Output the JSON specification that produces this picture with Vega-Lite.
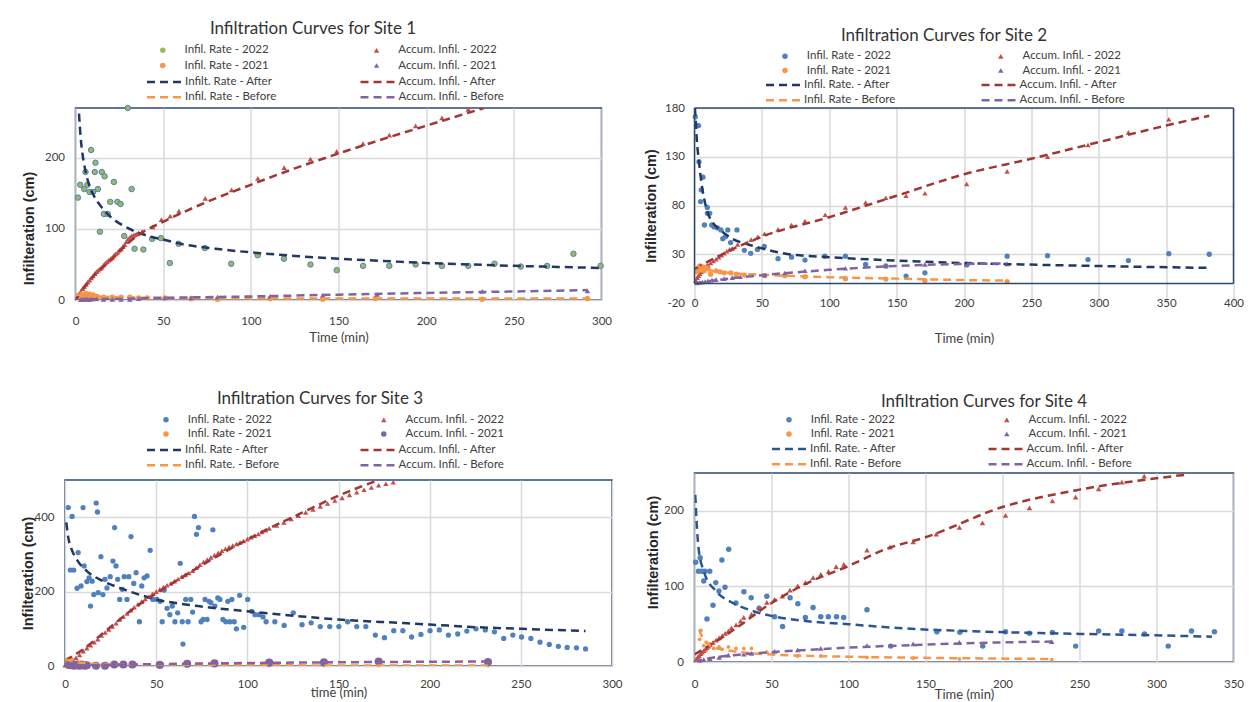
{
  "$schema": "https://vega.github.io/schema/vega-lite/v6.json",
  "padding": {"left": 19, "top": 19, "right": 0, "bottom": 0},
  "config": {
    "font": "Lato",
    "background": "white",
    "view": {"stroke": "#2b4a72", "strokeWidth": 1.5},
    "axis": {"domain": false, "ticks": false, "grid": true, "gridColor": "#d9d9d9", "gridWidth": 1.5, "labelFont": "Lato", "labelFontSize": 11.5, "labelColor": "#404040", "labelFlush": false, "labelOverlap": false, "titleFont": "Lato", "titleFontSize": 13, "titleFontWeight": "normal", "titleColor": "#404040", "labelExpr": "'' + datum.value"},
    "axisY": {"titleFont": "Liberation Sans, Arial, sans-serif", "titleFontWeight": "bold", "titleFontSize": 14.5, "titleColor": "#262626"},
    "title": {"font": "Lato", "fontSize": 17, "fontWeight": "normal", "color": "#333333", "anchor": "middle"},
    "legend": {"labelFont": "Lato", "labelFontSize": 11.5, "labelColor": "#404040", "padding": 0, "direction": "horizontal", "labelOffset": 16, "gridAlign": "all"}
  },
  "datasets": {
    "p1p": [
      {"t":1.4,"v":144,"s":"Infil. Rate - 2022"},{"t":2.7,"v":162,"s":"Infil. Rate - 2022"},{"t":5,"v":156,"s":"Infil. Rate - 2022"},{"t":5.7,"v":180,"s":"Infil. Rate - 2022"},{"t":6.8,"v":162,"s":"Infil. Rate - 2022"},{"t":8,"v":152,"s":"Infil. Rate - 2022"},{"t":8.9,"v":211,"s":"Infil. Rate - 2022"},{"t":10,"v":152,"s":"Infil. Rate - 2022"},{"t":11,"v":180,"s":"Infil. Rate - 2022"},{"t":11.4,"v":193,"s":"Infil. Rate - 2022"},{"t":12.8,"v":156,"s":"Infil. Rate - 2022"},{"t":13.9,"v":96,"s":"Infil. Rate - 2022"},{"t":15,"v":180,"s":"Infil. Rate - 2022"},{"t":16.2,"v":121,"s":"Infil. Rate - 2022"},{"t":16.6,"v":174,"s":"Infil. Rate - 2022"},{"t":18.4,"v":121,"s":"Infil. Rate - 2022"},{"t":19.8,"v":138,"s":"Infil. Rate - 2022"},{"t":21.9,"v":166,"s":"Infil. Rate - 2022"},{"t":23.9,"v":138,"s":"Infil. Rate - 2022"},{"t":25.7,"v":135,"s":"Infil. Rate - 2022"},{"t":27.8,"v":90,"s":"Infil. Rate - 2022"},{"t":29.8,"v":270,"s":"Infil. Rate - 2022"},{"t":32,"v":156,"s":"Infil. Rate - 2022"},{"t":33.7,"v":72,"s":"Infil. Rate - 2022"},{"t":38.7,"v":71,"s":"Infil. Rate - 2022"},{"t":43.7,"v":86,"s":"Infil. Rate - 2022"},{"t":48.7,"v":87,"s":"Infil. Rate - 2022"},{"t":53.8,"v":52,"s":"Infil. Rate - 2022"},{"t":58.8,"v":79,"s":"Infil. Rate - 2022"},{"t":73.8,"v":73,"s":"Infil. Rate - 2022"},{"t":88.8,"v":51,"s":"Infil. Rate - 2022"},{"t":103.9,"v":63,"s":"Infil. Rate - 2022"},{"t":118.9,"v":58,"s":"Infil. Rate - 2022"},{"t":134,"v":50,"s":"Infil. Rate - 2022"},{"t":149,"v":42,"s":"Infil. Rate - 2022"},{"t":164,"v":48,"s":"Infil. Rate - 2022"},{"t":179,"v":48,"s":"Infil. Rate - 2022"},{"t":194,"v":50,"s":"Infil. Rate - 2022"},{"t":209,"v":48,"s":"Infil. Rate - 2022"},{"t":224,"v":48,"s":"Infil. Rate - 2022"},{"t":239,"v":51,"s":"Infil. Rate - 2022"},{"t":254,"v":47,"s":"Infil. Rate - 2022"},{"t":269,"v":48,"s":"Infil. Rate - 2022"},{"t":284,"v":65,"s":"Infil. Rate - 2022"},{"t":299.5,"v":48,"s":"Infil. Rate - 2022"},
      {"t":1,"v":4,"s":"Accum. Infil. - 2022"},{"t":2,"v":8,"s":"Accum. Infil. - 2022"},{"t":3,"v":12,"s":"Accum. Infil. - 2022"},{"t":4,"v":16,"s":"Accum. Infil. - 2022"},{"t":5,"v":19,"s":"Accum. Infil. - 2022"},{"t":6,"v":22,"s":"Accum. Infil. - 2022"},{"t":7,"v":25,"s":"Accum. Infil. - 2022"},{"t":8,"v":28,"s":"Accum. Infil. - 2022"},{"t":9,"v":31,"s":"Accum. Infil. - 2022"},{"t":10,"v":34,"s":"Accum. Infil. - 2022"},{"t":11,"v":37,"s":"Accum. Infil. - 2022"},{"t":12,"v":40,"s":"Accum. Infil. - 2022"},{"t":13,"v":42,"s":"Accum. Infil. - 2022"},{"t":14,"v":44,"s":"Accum. Infil. - 2022"},{"t":15,"v":46,"s":"Accum. Infil. - 2022"},{"t":16,"v":49,"s":"Accum. Infil. - 2022"},{"t":17,"v":52,"s":"Accum. Infil. - 2022"},{"t":18,"v":54,"s":"Accum. Infil. - 2022"},{"t":19,"v":56,"s":"Accum. Infil. - 2022"},{"t":20,"v":58,"s":"Accum. Infil. - 2022"},{"t":21,"v":60,"s":"Accum. Infil. - 2022"},{"t":22,"v":63,"s":"Accum. Infil. - 2022"},{"t":23,"v":65,"s":"Accum. Infil. - 2022"},{"t":24,"v":67,"s":"Accum. Infil. - 2022"},{"t":25,"v":70,"s":"Accum. Infil. - 2022"},{"t":26,"v":72,"s":"Accum. Infil. - 2022"},{"t":27,"v":75,"s":"Accum. Infil. - 2022"},{"t":28,"v":78,"s":"Accum. Infil. - 2022"},{"t":29,"v":82,"s":"Accum. Infil. - 2022"},{"t":30,"v":86,"s":"Accum. Infil. - 2022"},{"t":31,"v":88,"s":"Accum. Infil. - 2022"},{"t":32,"v":90,"s":"Accum. Infil. - 2022"},{"t":33,"v":91,"s":"Accum. Infil. - 2022"},{"t":34,"v":92,"s":"Accum. Infil. - 2022"},{"t":35,"v":93,"s":"Accum. Infil. - 2022"},{"t":36,"v":94,"s":"Accum. Infil. - 2022"},{"t":38,"v":96,"s":"Accum. Infil. - 2022"},{"t":44,"v":103,"s":"Accum. Infil. - 2022"},{"t":49,"v":113,"s":"Accum. Infil. - 2022"},{"t":54,"v":118,"s":"Accum. Infil. - 2022"},{"t":59,"v":125,"s":"Accum. Infil. - 2022"},{"t":74,"v":143,"s":"Accum. Infil. - 2022"},{"t":89,"v":155,"s":"Accum. Infil. - 2022"},{"t":104,"v":171,"s":"Accum. Infil. - 2022"},{"t":119,"v":186,"s":"Accum. Infil. - 2022"},{"t":134,"v":198,"s":"Accum. Infil. - 2022"},{"t":149,"v":209,"s":"Accum. Infil. - 2022"},{"t":164,"v":220,"s":"Accum. Infil. - 2022"},{"t":179,"v":232,"s":"Accum. Infil. - 2022"},{"t":194,"v":245,"s":"Accum. Infil. - 2022"},{"t":209,"v":256,"s":"Accum. Infil. - 2022"},{"t":224,"v":268,"s":"Accum. Infil. - 2022"},
      {"t":2,"v":6,"s":"Infil. Rate - 2021"},{"t":3,"v":8,"s":"Infil. Rate - 2021"},{"t":4,"v":5,"s":"Infil. Rate - 2021"},{"t":5,"v":7,"s":"Infil. Rate - 2021"},{"t":6,"v":9,"s":"Infil. Rate - 2021"},{"t":7,"v":6,"s":"Infil. Rate - 2021"},{"t":8,"v":8,"s":"Infil. Rate - 2021"},{"t":9,"v":5,"s":"Infil. Rate - 2021"},{"t":10,"v":7,"s":"Infil. Rate - 2021"},{"t":11,"v":4,"s":"Infil. Rate - 2021"},{"t":12,"v":5,"s":"Infil. Rate - 2021"},{"t":13,"v":4,"s":"Infil. Rate - 2021"},{"t":16,"v":4,"s":"Infil. Rate - 2021"},{"t":21,"v":4,"s":"Infil. Rate - 2021"},{"t":26,"v":4,"s":"Infil. Rate - 2021"},{"t":31,"v":4,"s":"Infil. Rate - 2021"},{"t":36,"v":3,"s":"Infil. Rate - 2021"},{"t":41,"v":3,"s":"Infil. Rate - 2021"},{"t":51,"v":3,"s":"Infil. Rate - 2021"},{"t":66,"v":2,"s":"Infil. Rate - 2021"},{"t":81,"v":1,"s":"Infil. Rate - 2021"},{"t":111,"v":2,"s":"Infil. Rate - 2021"},{"t":141,"v":1,"s":"Infil. Rate - 2021"},{"t":171,"v":2,"s":"Infil. Rate - 2021"},{"t":232,"v":1,"s":"Infil. Rate - 2021"},{"t":292,"v":2,"s":"Infil. Rate - 2021"},
      {"t":3,"v":0.5,"s":"Accum. Infil. - 2021"},{"t":4,"v":1,"s":"Accum. Infil. - 2021"},{"t":5,"v":1,"s":"Accum. Infil. - 2021"},{"t":6,"v":1.5,"s":"Accum. Infil. - 2021"},{"t":7,"v":1,"s":"Accum. Infil. - 2021"},{"t":8,"v":1,"s":"Accum. Infil. - 2021"},{"t":9,"v":1.5,"s":"Accum. Infil. - 2021"},{"t":10,"v":1.5,"s":"Accum. Infil. - 2021"},{"t":11,"v":2,"s":"Accum. Infil. - 2021"},{"t":12,"v":2,"s":"Accum. Infil. - 2021"},{"t":16,"v":1,"s":"Accum. Infil. - 2021"},{"t":21,"v":1,"s":"Accum. Infil. - 2021"},{"t":26,"v":1,"s":"Accum. Infil. - 2021"},{"t":31,"v":1,"s":"Accum. Infil. - 2021"},{"t":36,"v":2,"s":"Accum. Infil. - 2021"},{"t":51,"v":3,"s":"Accum. Infil. - 2021"},{"t":66,"v":3,"s":"Accum. Infil. - 2021"},{"t":81,"v":4,"s":"Accum. Infil. - 2021"},{"t":111,"v":5,"s":"Accum. Infil. - 2021"},{"t":141,"v":7,"s":"Accum. Infil. - 2021"},{"t":172,"v":8,"s":"Accum. Infil. - 2021"},{"t":232,"v":12,"s":"Accum. Infil. - 2021"},{"t":292,"v":13,"s":"Accum. Infil. - 2021"}
    ],
    "p1f": [
      {"t":2,"v":262,"s":"Infilt. Rate - After"},{"t":3,"v":227,"s":"Infilt. Rate - After"},{"t":4,"v":205,"s":"Infilt. Rate - After"},{"t":5,"v":190,"s":"Infilt. Rate - After"},{"t":7,"v":168,"s":"Infilt. Rate - After"},{"t":10,"v":149,"s":"Infilt. Rate - After"},{"t":15,"v":130,"s":"Infilt. Rate - After"},{"t":20,"v":117,"s":"Infilt. Rate - After"},{"t":30,"v":101,"s":"Infilt. Rate - After"},{"t":40,"v":91,"s":"Infilt. Rate - After"},{"t":50,"v":85,"s":"Infilt. Rate - After"},{"t":60,"v":79,"s":"Infilt. Rate - After"},{"t":80,"v":72,"s":"Infilt. Rate - After"},{"t":100,"v":67,"s":"Infilt. Rate - After"},{"t":125,"v":62,"s":"Infilt. Rate - After"},{"t":150,"v":58,"s":"Infilt. Rate - After"},{"t":175,"v":55,"s":"Infilt. Rate - After"},{"t":200,"v":52,"s":"Infilt. Rate - After"},{"t":225,"v":50,"s":"Infilt. Rate - After"},{"t":250,"v":48,"s":"Infilt. Rate - After"},{"t":275,"v":46.5,"s":"Infilt. Rate - After"},{"t":300,"v":45,"s":"Infilt. Rate - After"},
      {"t":0,"v":0,"s":"Accum. Infil. - After"},{"t":5,"v":18,"s":"Accum. Infil. - After"},{"t":10,"v":33,"s":"Accum. Infil. - After"},{"t":20,"v":56,"s":"Accum. Infil. - After"},{"t":30,"v":80,"s":"Accum. Infil. - After"},{"t":38,"v":95,"s":"Accum. Infil. - After"},{"t":50,"v":110,"s":"Accum. Infil. - After"},{"t":75,"v":138,"s":"Accum. Infil. - After"},{"t":100,"v":162,"s":"Accum. Infil. - After"},{"t":125,"v":185,"s":"Accum. Infil. - After"},{"t":150,"v":206,"s":"Accum. Infil. - After"},{"t":175,"v":226,"s":"Accum. Infil. - After"},{"t":200,"v":245,"s":"Accum. Infil. - After"},{"t":225,"v":264,"s":"Accum. Infil. - After"},{"t":233,"v":270,"s":"Accum. Infil. - After"},
      {"t":0,"v":8,"s":"Infil. Rate - Before"},{"t":5,"v":6,"s":"Infil. Rate - Before"},{"t":10,"v":5,"s":"Infil. Rate - Before"},{"t":20,"v":4,"s":"Infil. Rate - Before"},{"t":50,"v":3,"s":"Infil. Rate - Before"},{"t":100,"v":2.5,"s":"Infil. Rate - Before"},{"t":150,"v":2,"s":"Infil. Rate - Before"},{"t":200,"v":2,"s":"Infil. Rate - Before"},{"t":292,"v":2,"s":"Infil. Rate - Before"},
      {"t":0,"v":0,"s":"Accum. Infil. - Before"},{"t":10,"v":1,"s":"Accum. Infil. - Before"},{"t":25,"v":1.5,"s":"Accum. Infil. - Before"},{"t":50,"v":3,"s":"Accum. Infil. - Before"},{"t":100,"v":5,"s":"Accum. Infil. - Before"},{"t":150,"v":7.5,"s":"Accum. Infil. - Before"},{"t":200,"v":10,"s":"Accum. Infil. - Before"},{"t":250,"v":12,"s":"Accum. Infil. - Before"},{"t":292,"v":14,"s":"Accum. Infil. - Before"}
    ],
    "p2p": [
      {"t":0.6,"v":171,"s":"Infil. Rate - 2022"},{"t":1.5,"v":162,"s":"Infil. Rate - 2022"},{"t":3,"v":162,"s":"Infil. Rate - 2022"},{"t":3.3,"v":125,"s":"Infil. Rate - 2022"},{"t":4.5,"v":84,"s":"Infil. Rate - 2022"},{"t":5,"v":96,"s":"Infil. Rate - 2022"},{"t":6.3,"v":109,"s":"Infil. Rate - 2022"},{"t":7.4,"v":60,"s":"Infil. Rate - 2022"},{"t":9.5,"v":78,"s":"Infil. Rate - 2022"},{"t":9.6,"v":72,"s":"Infil. Rate - 2022"},{"t":11.3,"v":72,"s":"Infil. Rate - 2022"},{"t":12.8,"v":60,"s":"Infil. Rate - 2022"},{"t":14.6,"v":58,"s":"Infil. Rate - 2022"},{"t":17,"v":57,"s":"Infil. Rate - 2022"},{"t":19.6,"v":55,"s":"Infil. Rate - 2022"},{"t":21,"v":46,"s":"Infil. Rate - 2022"},{"t":23,"v":48,"s":"Infil. Rate - 2022"},{"t":24.7,"v":55,"s":"Infil. Rate - 2022"},{"t":26.8,"v":42,"s":"Infil. Rate - 2022"},{"t":31.5,"v":55,"s":"Infil. Rate - 2022"},{"t":37,"v":34,"s":"Infil. Rate - 2022"},{"t":41.7,"v":31,"s":"Infil. Rate - 2022"},{"t":46.7,"v":35,"s":"Infil. Rate - 2022"},{"t":51.8,"v":38,"s":"Infil. Rate - 2022"},{"t":62,"v":25.5,"s":"Infil. Rate - 2022"},{"t":72,"v":27,"s":"Infil. Rate - 2022"},{"t":82,"v":24,"s":"Infil. Rate - 2022"},{"t":96.7,"v":28,"s":"Infil. Rate - 2022"},{"t":112,"v":28,"s":"Infil. Rate - 2022"},{"t":127,"v":19.5,"s":"Infil. Rate - 2022"},{"t":142,"v":18,"s":"Infil. Rate - 2022"},{"t":157,"v":7.6,"s":"Infil. Rate - 2022"},{"t":171,"v":11,"s":"Infil. Rate - 2022"},{"t":202,"v":19,"s":"Infil. Rate - 2022"},{"t":232,"v":28,"s":"Infil. Rate - 2022"},{"t":262,"v":28.5,"s":"Infil. Rate - 2022"},{"t":292,"v":24.5,"s":"Infil. Rate - 2022"},{"t":322,"v":23.5,"s":"Infil. Rate - 2022"},{"t":352,"v":30.5,"s":"Infil. Rate - 2022"},{"t":382,"v":30,"s":"Infil. Rate - 2022"},
      {"t":1,"v":3,"s":"Accum. Infil. - 2022"},{"t":2,"v":6,"s":"Accum. Infil. - 2022"},{"t":3,"v":8,"s":"Accum. Infil. - 2022"},{"t":4,"v":10,"s":"Accum. Infil. - 2022"},{"t":5,"v":12,"s":"Accum. Infil. - 2022"},{"t":6,"v":14,"s":"Accum. Infil. - 2022"},{"t":7,"v":16,"s":"Accum. Infil. - 2022"},{"t":8,"v":17,"s":"Accum. Infil. - 2022"},{"t":9,"v":18,"s":"Accum. Infil. - 2022"},{"t":10,"v":19,"s":"Accum. Infil. - 2022"},{"t":12,"v":21,"s":"Accum. Infil. - 2022"},{"t":14,"v":23,"s":"Accum. Infil. - 2022"},{"t":16,"v":25,"s":"Accum. Infil. - 2022"},{"t":18,"v":27,"s":"Accum. Infil. - 2022"},{"t":20,"v":29,"s":"Accum. Infil. - 2022"},{"t":22,"v":31,"s":"Accum. Infil. - 2022"},{"t":24,"v":33,"s":"Accum. Infil. - 2022"},{"t":26,"v":35,"s":"Accum. Infil. - 2022"},{"t":28,"v":36,"s":"Accum. Infil. - 2022"},{"t":32,"v":40,"s":"Accum. Infil. - 2022"},{"t":42,"v":45,"s":"Accum. Infil. - 2022"},{"t":47,"v":48,"s":"Accum. Infil. - 2022"},{"t":52,"v":51,"s":"Accum. Infil. - 2022"},{"t":62,"v":55.5,"s":"Accum. Infil. - 2022"},{"t":72,"v":60,"s":"Accum. Infil. - 2022"},{"t":82,"v":64,"s":"Accum. Infil. - 2022"},{"t":97,"v":70.5,"s":"Accum. Infil. - 2022"},{"t":112,"v":78,"s":"Accum. Infil. - 2022"},{"t":127,"v":83,"s":"Accum. Infil. - 2022"},{"t":142,"v":88,"s":"Accum. Infil. - 2022"},{"t":157,"v":90,"s":"Accum. Infil. - 2022"},{"t":171,"v":92.5,"s":"Accum. Infil. - 2022"},{"t":202,"v":102,"s":"Accum. Infil. - 2022"},{"t":232,"v":115,"s":"Accum. Infil. - 2022"},{"t":262,"v":130,"s":"Accum. Infil. - 2022"},{"t":292,"v":142,"s":"Accum. Infil. - 2022"},{"t":322,"v":155,"s":"Accum. Infil. - 2022"},{"t":352,"v":168.5,"s":"Accum. Infil. - 2022"},
      {"t":2,"v":12,"s":"Infil. Rate - 2021"},{"t":3,"v":16,"s":"Infil. Rate - 2021"},{"t":4,"v":18,"s":"Infil. Rate - 2021"},{"t":5,"v":14,"s":"Infil. Rate - 2021"},{"t":6,"v":17,"s":"Infil. Rate - 2021"},{"t":7,"v":13,"s":"Infil. Rate - 2021"},{"t":8,"v":16,"s":"Infil. Rate - 2021"},{"t":9,"v":16,"s":"Infil. Rate - 2021"},{"t":10,"v":15,"s":"Infil. Rate - 2021"},{"t":12,"v":9.6,"s":"Infil. Rate - 2021"},{"t":16,"v":13,"s":"Infil. Rate - 2021"},{"t":19,"v":12,"s":"Infil. Rate - 2021"},{"t":22,"v":11,"s":"Infil. Rate - 2021"},{"t":27,"v":11,"s":"Infil. Rate - 2021"},{"t":31,"v":9.6,"s":"Infil. Rate - 2021"},{"t":37,"v":8.6,"s":"Infil. Rate - 2021"},{"t":52,"v":8,"s":"Infil. Rate - 2021"},{"t":67,"v":8,"s":"Infil. Rate - 2021"},{"t":82,"v":7,"s":"Infil. Rate - 2021"},{"t":112,"v":5,"s":"Infil. Rate - 2021"},{"t":142,"v":4.5,"s":"Infil. Rate - 2021"},{"t":171,"v":3,"s":"Infil. Rate - 2021"},{"t":232,"v":2,"s":"Infil. Rate - 2021"},
      {"t":2,"v":0.5,"s":"Accum. Infil. - 2021"},{"t":4,"v":1,"s":"Accum. Infil. - 2021"},{"t":6,"v":1.5,"s":"Accum. Infil. - 2021"},{"t":8,"v":2,"s":"Accum. Infil. - 2021"},{"t":10,"v":2.7,"s":"Accum. Infil. - 2021"},{"t":13,"v":3.5,"s":"Accum. Infil. - 2021"},{"t":16,"v":4,"s":"Accum. Infil. - 2021"},{"t":22,"v":5,"s":"Accum. Infil. - 2021"},{"t":28,"v":6,"s":"Accum. Infil. - 2021"},{"t":34,"v":7,"s":"Accum. Infil. - 2021"},{"t":52,"v":8.6,"s":"Accum. Infil. - 2021"},{"t":67,"v":10.7,"s":"Accum. Infil. - 2021"},{"t":82,"v":13,"s":"Accum. Infil. - 2021"},{"t":112,"v":15.7,"s":"Accum. Infil. - 2021"},{"t":142,"v":18,"s":"Accum. Infil. - 2021"},{"t":171,"v":19.6,"s":"Accum. Infil. - 2021"},{"t":202,"v":20.6,"s":"Accum. Infil. - 2021"},{"t":232,"v":20,"s":"Accum. Infil. - 2021"}
    ],
    "p2f": [
      {"t":0.3,"v":180,"s":"Infil. Rate. - After"},{"t":1,"v":165,"s":"Infil. Rate. - After"},{"t":1.5,"v":152,"s":"Infil. Rate. - After"},{"t":2.5,"v":135,"s":"Infil. Rate. - After"},{"t":3.3,"v":125,"s":"Infil. Rate. - After"},{"t":5,"v":105,"s":"Infil. Rate. - After"},{"t":7,"v":88,"s":"Infil. Rate. - After"},{"t":10,"v":72,"s":"Infil. Rate. - After"},{"t":15,"v":60,"s":"Infil. Rate. - After"},{"t":19,"v":55,"s":"Infil. Rate. - After"},{"t":28,"v":46,"s":"Infil. Rate. - After"},{"t":40,"v":40,"s":"Infil. Rate. - After"},{"t":50,"v":36,"s":"Infil. Rate. - After"},{"t":70,"v":30,"s":"Infil. Rate. - After"},{"t":100,"v":27,"s":"Infil. Rate. - After"},{"t":159,"v":23,"s":"Infil. Rate. - After"},{"t":200,"v":21,"s":"Infil. Rate. - After"},{"t":248,"v":19.4,"s":"Infil. Rate. - After"},{"t":308,"v":17.7,"s":"Infil. Rate. - After"},{"t":382,"v":16,"s":"Infil. Rate. - After"},
      {"t":0,"v":15,"s":"Accum. Infil. - After"},{"t":25,"v":33,"s":"Accum. Infil. - After"},{"t":50,"v":48,"s":"Accum. Infil. - After"},{"t":100,"v":68,"s":"Accum. Infil. - After"},{"t":150,"v":90,"s":"Accum. Infil. - After"},{"t":200,"v":112,"s":"Accum. Infil. - After"},{"t":250,"v":128,"s":"Accum. Infil. - After"},{"t":300,"v":145,"s":"Accum. Infil. - After"},{"t":350,"v":162,"s":"Accum. Infil. - After"},{"t":382,"v":172,"s":"Accum. Infil. - After"},
      {"t":2,"v":18,"s":"Infil. Rate - Before"},{"t":10,"v":14,"s":"Infil. Rate - Before"},{"t":25,"v":11,"s":"Infil. Rate - Before"},{"t":50,"v":9,"s":"Infil. Rate - Before"},{"t":100,"v":6.5,"s":"Infil. Rate - Before"},{"t":150,"v":5,"s":"Infil. Rate - Before"},{"t":200,"v":3.5,"s":"Infil. Rate - Before"},{"t":232,"v":3,"s":"Infil. Rate - Before"},
      {"t":0,"v":0,"s":"Accum. Infil. - Before"},{"t":25,"v":5,"s":"Accum. Infil. - Before"},{"t":50,"v":8.5,"s":"Accum. Infil. - Before"},{"t":100,"v":14,"s":"Accum. Infil. - Before"},{"t":150,"v":18,"s":"Accum. Infil. - Before"},{"t":200,"v":20,"s":"Accum. Infil. - Before"},{"t":232,"v":20.5,"s":"Accum. Infil. - Before"}
    ],
    "p3p": [
      {"t":1.8,"v":426,"s":"Infil. Rate - 2022"},{"t":3.9,"v":402,"s":"Infil. Rate - 2022"},{"t":2.9,"v":258,"s":"Infil. Rate - 2022"},{"t":4.8,"v":258,"s":"Infil. Rate - 2022"},{"t":6.6,"v":209,"s":"Infil. Rate - 2022"},{"t":7.2,"v":305,"s":"Infil. Rate - 2022"},{"t":8.8,"v":215,"s":"Infil. Rate - 2022"},{"t":9.9,"v":426,"s":"Infil. Rate - 2022"},{"t":10.5,"v":269,"s":"Infil. Rate - 2022"},{"t":12,"v":227,"s":"Infil. Rate - 2022"},{"t":13.2,"v":237,"s":"Infil. Rate - 2022"},{"t":14,"v":161,"s":"Infil. Rate - 2022"},{"t":14.9,"v":228,"s":"Infil. Rate - 2022"},{"t":15.8,"v":192,"s":"Infil. Rate - 2022"},{"t":17.1,"v":438,"s":"Infil. Rate - 2022"},{"t":17.8,"v":414,"s":"Infil. Rate - 2022"},{"t":18.2,"v":197,"s":"Infil. Rate - 2022"},{"t":19.7,"v":294,"s":"Infil. Rate - 2022"},{"t":20.8,"v":192,"s":"Infil. Rate - 2022"},{"t":21.9,"v":233,"s":"Infil. Rate - 2022"},{"t":23,"v":210,"s":"Infil. Rate - 2022"},{"t":24.8,"v":240,"s":"Infil. Rate - 2022"},{"t":26.3,"v":282,"s":"Infil. Rate - 2022"},{"t":27.2,"v":372,"s":"Infil. Rate - 2022"},{"t":28,"v":269,"s":"Infil. Rate - 2022"},{"t":28.9,"v":233,"s":"Infil. Rate - 2022"},{"t":30,"v":179,"s":"Infil. Rate - 2022"},{"t":31.4,"v":206,"s":"Infil. Rate - 2022"},{"t":32.5,"v":240,"s":"Infil. Rate - 2022"},{"t":34,"v":179,"s":"Infil. Rate - 2022"},{"t":35,"v":240,"s":"Infil. Rate - 2022"},{"t":36.2,"v":348,"s":"Infil. Rate - 2022"},{"t":37.7,"v":222,"s":"Infil. Rate - 2022"},{"t":39,"v":251,"s":"Infil. Rate - 2022"},{"t":40.8,"v":119,"s":"Infil. Rate - 2022"},{"t":42.1,"v":215,"s":"Infil. Rate - 2022"},{"t":43.4,"v":237,"s":"Infil. Rate - 2022"},{"t":45,"v":242,"s":"Infil. Rate - 2022"},{"t":46.7,"v":311,"s":"Infil. Rate - 2022"},{"t":48.2,"v":179,"s":"Infil. Rate - 2022"},{"t":50.4,"v":179,"s":"Infil. Rate - 2022"},{"t":52.2,"v":174,"s":"Infil. Rate - 2022"},{"t":53.3,"v":119,"s":"Infil. Rate - 2022"},{"t":54.4,"v":204,"s":"Infil. Rate - 2022"},{"t":56,"v":155,"s":"Infil. Rate - 2022"},{"t":57.5,"v":138,"s":"Infil. Rate - 2022"},{"t":58.8,"v":161,"s":"Infil. Rate - 2022"},{"t":60.3,"v":119,"s":"Infil. Rate - 2022"},{"t":61.8,"v":143,"s":"Infil. Rate - 2022"},{"t":63.2,"v":276,"s":"Infil. Rate - 2022"},{"t":64.3,"v":119,"s":"Infil. Rate - 2022"},{"t":64.7,"v":59,"s":"Infil. Rate - 2022"},{"t":66.2,"v":179,"s":"Infil. Rate - 2022"},{"t":67.5,"v":119,"s":"Infil. Rate - 2022"},{"t":69,"v":179,"s":"Infil. Rate - 2022"},{"t":70,"v":145,"s":"Infil. Rate - 2022"},{"t":71,"v":402,"s":"Infil. Rate - 2022"},{"t":72.1,"v":354,"s":"Infil. Rate - 2022"},{"t":73.2,"v":372,"s":"Infil. Rate - 2022"},{"t":74.6,"v":119,"s":"Infil. Rate - 2022"},{"t":75.7,"v":125,"s":"Infil. Rate - 2022"},{"t":76.8,"v":179,"s":"Infil. Rate - 2022"},{"t":77.9,"v":125,"s":"Infil. Rate - 2022"},{"t":79,"v":174,"s":"Infil. Rate - 2022"},{"t":80,"v":170,"s":"Infil. Rate - 2022"},{"t":81.1,"v":366,"s":"Infil. Rate - 2022"},{"t":82.2,"v":161,"s":"Infil. Rate - 2022"},{"t":83.8,"v":183,"s":"Infil. Rate - 2022"},{"t":85,"v":179,"s":"Infil. Rate - 2022"},{"t":86.6,"v":125,"s":"Infil. Rate - 2022"},{"t":88.2,"v":119,"s":"Infil. Rate - 2022"},{"t":89.3,"v":174,"s":"Infil. Rate - 2022"},{"t":90.4,"v":119,"s":"Infil. Rate - 2022"},{"t":91.5,"v":179,"s":"Infil. Rate - 2022"},{"t":92.8,"v":119,"s":"Infil. Rate - 2022"},{"t":94,"v":100,"s":"Infil. Rate - 2022"},{"t":95.8,"v":190,"s":"Infil. Rate - 2022"},{"t":98,"v":104,"s":"Infil. Rate - 2022"},{"t":100.2,"v":179,"s":"Infil. Rate - 2022"},{"t":102.4,"v":147,"s":"Infil. Rate - 2022"},{"t":104.2,"v":138,"s":"Infil. Rate - 2022"},{"t":106.4,"v":138,"s":"Infil. Rate - 2022"},{"t":108.6,"v":132,"s":"Infil. Rate - 2022"},{"t":110.3,"v":119,"s":"Infil. Rate - 2022"},{"t":115.1,"v":119,"s":"Infil. Rate - 2022"},{"t":120.2,"v":109,"s":"Infil. Rate - 2022"},{"t":125.2,"v":143,"s":"Infil. Rate - 2022"},{"t":130,"v":111,"s":"Infil. Rate - 2022"},{"t":135,"v":116,"s":"Infil. Rate - 2022"},{"t":140,"v":106,"s":"Infil. Rate - 2022"},{"t":145.2,"v":106,"s":"Infil. Rate - 2022"},{"t":150.2,"v":106,"s":"Infil. Rate - 2022"},{"t":155,"v":119,"s":"Infil. Rate - 2022"},{"t":160,"v":106,"s":"Infil. Rate - 2022"},{"t":165,"v":106,"s":"Infil. Rate - 2022"},{"t":170.2,"v":83,"s":"Infil. Rate - 2022"},{"t":175.2,"v":76,"s":"Infil. Rate - 2022"},{"t":180.3,"v":95,"s":"Infil. Rate - 2022"},{"t":185.3,"v":95,"s":"Infil. Rate - 2022"},{"t":190.1,"v":78,"s":"Infil. Rate - 2022"},{"t":195.2,"v":85,"s":"Infil. Rate - 2022"},{"t":200.2,"v":95,"s":"Infil. Rate - 2022"},{"t":205.3,"v":97,"s":"Infil. Rate - 2022"},{"t":210.3,"v":83,"s":"Infil. Rate - 2022"},{"t":215.4,"v":86,"s":"Infil. Rate - 2022"},{"t":220.4,"v":94,"s":"Infil. Rate - 2022"},{"t":225.4,"v":100,"s":"Infil. Rate - 2022"},{"t":230.5,"v":97,"s":"Infil. Rate - 2022"},{"t":235.5,"v":92,"s":"Infil. Rate - 2022"},{"t":240.6,"v":74,"s":"Infil. Rate - 2022"},{"t":245.6,"v":83,"s":"Infil. Rate - 2022"},{"t":250.4,"v":78,"s":"Infil. Rate - 2022"},{"t":255.5,"v":74,"s":"Infil. Rate - 2022"},{"t":260.5,"v":64,"s":"Infil. Rate - 2022"},{"t":265.6,"v":58,"s":"Infil. Rate - 2022"},{"t":270.6,"v":53,"s":"Infil. Rate - 2022"},{"t":275.4,"v":50,"s":"Infil. Rate - 2022"},{"t":280.5,"v":49,"s":"Infil. Rate - 2022"},{"t":285.5,"v":46,"s":"Infil. Rate - 2022"},
      {"t":0,"v":2,"s":"Accum. Infil. - 2022"},{"t":2,"v":8,"s":"Accum. Infil. - 2022"},{"t":4,"v":15,"s":"Accum. Infil. - 2022"},{"t":6,"v":22,"s":"Accum. Infil. - 2022"},{"t":8,"v":30,"s":"Accum. Infil. - 2022"},{"t":10,"v":40,"s":"Accum. Infil. - 2022"},{"t":12,"v":48,"s":"Accum. Infil. - 2022"},{"t":14,"v":56,"s":"Accum. Infil. - 2022"},{"t":16,"v":64,"s":"Accum. Infil. - 2022"},{"t":18,"v":72,"s":"Accum. Infil. - 2022"},{"t":20,"v":82,"s":"Accum. Infil. - 2022"},{"t":22,"v":90,"s":"Accum. Infil. - 2022"},{"t":24,"v":98,"s":"Accum. Infil. - 2022"},{"t":26,"v":106,"s":"Accum. Infil. - 2022"},{"t":28,"v":115,"s":"Accum. Infil. - 2022"},{"t":30,"v":125,"s":"Accum. Infil. - 2022"},{"t":32,"v":133,"s":"Accum. Infil. - 2022"},{"t":34,"v":141,"s":"Accum. Infil. - 2022"},{"t":36,"v":150,"s":"Accum. Infil. - 2022"},{"t":38,"v":158,"s":"Accum. Infil. - 2022"},{"t":40,"v":166,"s":"Accum. Infil. - 2022"},{"t":42,"v":173,"s":"Accum. Infil. - 2022"},{"t":44,"v":180,"s":"Accum. Infil. - 2022"},{"t":46,"v":187,"s":"Accum. Infil. - 2022"},{"t":48,"v":194,"s":"Accum. Infil. - 2022"},{"t":50,"v":200,"s":"Accum. Infil. - 2022"},{"t":52,"v":206,"s":"Accum. Infil. - 2022"},{"t":54,"v":212,"s":"Accum. Infil. - 2022"},{"t":56,"v":217,"s":"Accum. Infil. - 2022"},{"t":58,"v":222,"s":"Accum. Infil. - 2022"},{"t":60,"v":228,"s":"Accum. Infil. - 2022"},{"t":62,"v":234,"s":"Accum. Infil. - 2022"},{"t":64,"v":240,"s":"Accum. Infil. - 2022"},{"t":66,"v":245,"s":"Accum. Infil. - 2022"},{"t":68,"v":250,"s":"Accum. Infil. - 2022"},{"t":70,"v":256,"s":"Accum. Infil. - 2022"},{"t":72,"v":264,"s":"Accum. Infil. - 2022"},{"t":74,"v":272,"s":"Accum. Infil. - 2022"},{"t":76,"v":280,"s":"Accum. Infil. - 2022"},{"t":78,"v":286,"s":"Accum. Infil. - 2022"},{"t":80,"v":292,"s":"Accum. Infil. - 2022"},{"t":82,"v":298,"s":"Accum. Infil. - 2022"},{"t":84,"v":304,"s":"Accum. Infil. - 2022"},{"t":86,"v":310,"s":"Accum. Infil. - 2022"},{"t":88,"v":315,"s":"Accum. Infil. - 2022"},{"t":90,"v":320,"s":"Accum. Infil. - 2022"},{"t":92,"v":324,"s":"Accum. Infil. - 2022"},{"t":94,"v":328,"s":"Accum. Infil. - 2022"},{"t":96,"v":332,"s":"Accum. Infil. - 2022"},{"t":98,"v":336,"s":"Accum. Infil. - 2022"},{"t":100,"v":341,"s":"Accum. Infil. - 2022"},{"t":102,"v":346,"s":"Accum. Infil. - 2022"},{"t":104,"v":350,"s":"Accum. Infil. - 2022"},{"t":106,"v":355,"s":"Accum. Infil. - 2022"},{"t":108,"v":360,"s":"Accum. Infil. - 2022"},{"t":110,"v":365,"s":"Accum. Infil. - 2022"},{"t":112,"v":370,"s":"Accum. Infil. - 2022"},{"t":116,"v":378,"s":"Accum. Infil. - 2022"},{"t":120,"v":386,"s":"Accum. Infil. - 2022"},{"t":124,"v":395,"s":"Accum. Infil. - 2022"},{"t":128,"v":404,"s":"Accum. Infil. - 2022"},{"t":132,"v":413,"s":"Accum. Infil. - 2022"},{"t":136,"v":421,"s":"Accum. Infil. - 2022"},{"t":140,"v":429,"s":"Accum. Infil. - 2022"},{"t":144,"v":437,"s":"Accum. Infil. - 2022"},{"t":148,"v":445,"s":"Accum. Infil. - 2022"},{"t":152,"v":452,"s":"Accum. Infil. - 2022"},{"t":156,"v":460,"s":"Accum. Infil. - 2022"},{"t":160,"v":467,"s":"Accum. Infil. - 2022"},{"t":164,"v":474,"s":"Accum. Infil. - 2022"},{"t":168,"v":480,"s":"Accum. Infil. - 2022"},{"t":172,"v":486,"s":"Accum. Infil. - 2022"},{"t":176,"v":490,"s":"Accum. Infil. - 2022"},{"t":180,"v":494,"s":"Accum. Infil. - 2022"},
      {"t":1,"v":15,"s":"Infil. Rate - 2021"},{"t":2,"v":20,"s":"Infil. Rate - 2021"},{"t":3,"v":12,"s":"Infil. Rate - 2021"},{"t":4,"v":18,"s":"Infil. Rate - 2021"},{"t":5,"v":10,"s":"Infil. Rate - 2021"},{"t":6,"v":8,"s":"Infil. Rate - 2021"},{"t":7,"v":12,"s":"Infil. Rate - 2021"},{"t":8,"v":6,"s":"Infil. Rate - 2021"},{"t":10,"v":8,"s":"Infil. Rate - 2021"},{"t":12,"v":5,"s":"Infil. Rate - 2021"},{"t":15,"v":4,"s":"Infil. Rate - 2021"},{"t":20,"v":3,"s":"Infil. Rate - 2021"},{"t":25,"v":3,"s":"Infil. Rate - 2021"},{"t":30,"v":3,"s":"Infil. Rate - 2021"},{"t":37,"v":3,"s":"Infil. Rate - 2021"},{"t":52,"v":2,"s":"Infil. Rate - 2021"},{"t":67,"v":2,"s":"Infil. Rate - 2021"},{"t":82,"v":2,"s":"Infil. Rate - 2021"},{"t":112,"v":2,"s":"Infil. Rate - 2021"},{"t":142,"v":1,"s":"Infil. Rate - 2021"},{"t":172,"v":1,"s":"Infil. Rate - 2021"},{"t":232,"v":1,"s":"Infil. Rate - 2021"},
      {"t":2,"v":3,"s":"Accum. Infil. - 2021"},{"t":3,"v":2,"s":"Accum. Infil. - 2021"},{"t":4,"v":5,"s":"Accum. Infil. - 2021"},{"t":5,"v":1,"s":"Accum. Infil. - 2021"},{"t":6,"v":3,"s":"Accum. Infil. - 2021"},{"t":7,"v":2,"s":"Accum. Infil. - 2021"},{"t":8,"v":1,"s":"Accum. Infil. - 2021"},{"t":9,"v":4,"s":"Accum. Infil. - 2021"},{"t":10,"v":2,"s":"Accum. Infil. - 2021"},{"t":11,"v":1,"s":"Accum. Infil. - 2021"},{"t":12,"v":2,"s":"Accum. Infil. - 2021"},{"t":17,"v":0.5,"s":"Accum. Infil. - 2021"},{"t":22,"v":0.5,"s":"Accum. Infil. - 2021"},{"t":27,"v":4,"s":"Accum. Infil. - 2021"},{"t":32,"v":4,"s":"Accum. Infil. - 2021"},{"t":37,"v":4,"s":"Accum. Infil. - 2021"},{"t":52,"v":3,"s":"Accum. Infil. - 2021"},{"t":67,"v":6,"s":"Accum. Infil. - 2021"},{"t":82,"v":7,"s":"Accum. Infil. - 2021"},{"t":112,"v":9,"s":"Accum. Infil. - 2021"},{"t":142,"v":10,"s":"Accum. Infil. - 2021"},{"t":172,"v":12,"s":"Accum. Infil. - 2021"},{"t":232,"v":11,"s":"Accum. Infil. - 2021"}
    ],
    "p3f": [
      {"t":0.7,"v":386,"s":"Infil. Rate - After"},{"t":2,"v":340,"s":"Infil. Rate - After"},{"t":3.3,"v":318,"s":"Infil. Rate - After"},{"t":6.6,"v":285,"s":"Infil. Rate - After"},{"t":12,"v":255,"s":"Infil. Rate - After"},{"t":20,"v":230,"s":"Infil. Rate - After"},{"t":30,"v":210,"s":"Infil. Rate - After"},{"t":40,"v":193,"s":"Infil. Rate - After"},{"t":50,"v":179,"s":"Infil. Rate - After"},{"t":73,"v":161,"s":"Infil. Rate - After"},{"t":100,"v":147,"s":"Infil. Rate - After"},{"t":128,"v":134,"s":"Infil. Rate - After"},{"t":150,"v":125,"s":"Infil. Rate - After"},{"t":183,"v":116,"s":"Infil. Rate - After"},{"t":200,"v":111.5,"s":"Infil. Rate - After"},{"t":227,"v":104,"s":"Infil. Rate - After"},{"t":250,"v":100,"s":"Infil. Rate - After"},{"t":285.5,"v":94,"s":"Infil. Rate - After"},
      {"t":0,"v":15,"s":"Accum. Infil. - After"},{"t":10,"v":45,"s":"Accum. Infil. - After"},{"t":20,"v":85,"s":"Accum. Infil. - After"},{"t":30,"v":125,"s":"Accum. Infil. - After"},{"t":40,"v":163,"s":"Accum. Infil. - After"},{"t":50,"v":195,"s":"Accum. Infil. - After"},{"t":60,"v":226,"s":"Accum. Infil. - After"},{"t":80,"v":285,"s":"Accum. Infil. - After"},{"t":100,"v":340,"s":"Accum. Infil. - After"},{"t":112,"v":370,"s":"Accum. Infil. - After"},{"t":130,"v":412,"s":"Accum. Infil. - After"},{"t":150,"v":458,"s":"Accum. Infil. - After"},{"t":172,"v":500,"s":"Accum. Infil. - After"},
      {"t":0,"v":18,"s":"Infil. Rate. - Before"},{"t":5,"v":12,"s":"Infil. Rate. - Before"},{"t":10,"v":8,"s":"Infil. Rate. - Before"},{"t":20,"v":5,"s":"Infil. Rate. - Before"},{"t":50,"v":3,"s":"Infil. Rate. - Before"},{"t":100,"v":2,"s":"Infil. Rate. - Before"},{"t":150,"v":1.5,"s":"Infil. Rate. - Before"},{"t":232,"v":1,"s":"Infil. Rate. - Before"},
      {"t":0,"v":0,"s":"Accum. Infil. - Before"},{"t":25,"v":3,"s":"Accum. Infil. - Before"},{"t":50,"v":5,"s":"Accum. Infil. - Before"},{"t":100,"v":8,"s":"Accum. Infil. - Before"},{"t":150,"v":10,"s":"Accum. Infil. - Before"},{"t":200,"v":11.5,"s":"Accum. Infil. - Before"},{"t":232,"v":12,"s":"Accum. Infil. - Before"}
    ],
    "p4p": [
      {"t":0.8,"v":132,"s":"Infil. Rate - 2022"},{"t":2.6,"v":120,"s":"Infil. Rate - 2022"},{"t":3.7,"v":138,"s":"Infil. Rate - 2022"},{"t":4.7,"v":120,"s":"Infil. Rate - 2022"},{"t":6,"v":107,"s":"Infil. Rate - 2022"},{"t":6.8,"v":120,"s":"Infil. Rate - 2022"},{"t":8.1,"v":57,"s":"Infil. Rate - 2022"},{"t":9.9,"v":120,"s":"Infil. Rate - 2022"},{"t":12,"v":75,"s":"Infil. Rate - 2022"},{"t":13.8,"v":105,"s":"Infil. Rate - 2022"},{"t":15.9,"v":94,"s":"Infil. Rate - 2022"},{"t":17.8,"v":135,"s":"Infil. Rate - 2022"},{"t":19.8,"v":99,"s":"Infil. Rate - 2022"},{"t":22.2,"v":149,"s":"Infil. Rate - 2022"},{"t":26.9,"v":78,"s":"Infil. Rate - 2022"},{"t":32.1,"v":93,"s":"Infil. Rate - 2022"},{"t":36.8,"v":85,"s":"Infil. Rate - 2022"},{"t":42,"v":71,"s":"Infil. Rate - 2022"},{"t":47,"v":87,"s":"Infil. Rate - 2022"},{"t":52,"v":60,"s":"Infil. Rate - 2022"},{"t":57.2,"v":47,"s":"Infil. Rate - 2022"},{"t":62.1,"v":85,"s":"Infil. Rate - 2022"},{"t":67.1,"v":77,"s":"Infil. Rate - 2022"},{"t":72,"v":59,"s":"Infil. Rate - 2022"},{"t":77,"v":72,"s":"Infil. Rate - 2022"},{"t":82,"v":60,"s":"Infil. Rate - 2022"},{"t":86.9,"v":60,"s":"Infil. Rate - 2022"},{"t":92.2,"v":60,"s":"Infil. Rate - 2022"},{"t":96.9,"v":59,"s":"Infil. Rate - 2022"},{"t":112,"v":69,"s":"Infil. Rate - 2022"},{"t":127.4,"v":21,"s":"Infil. Rate - 2022"},{"t":157.4,"v":40,"s":"Infil. Rate - 2022"},{"t":172.3,"v":39.5,"s":"Infil. Rate - 2022"},{"t":187.2,"v":21,"s":"Infil. Rate - 2022"},{"t":202,"v":40,"s":"Infil. Rate - 2022"},{"t":217.5,"v":38,"s":"Infil. Rate - 2022"},{"t":232.4,"v":39,"s":"Infil. Rate - 2022"},{"t":247.5,"v":21,"s":"Infil. Rate - 2022"},{"t":262.4,"v":41,"s":"Infil. Rate - 2022"},{"t":277.5,"v":41,"s":"Infil. Rate - 2022"},{"t":292.2,"v":37,"s":"Infil. Rate - 2022"},{"t":307.6,"v":21,"s":"Infil. Rate - 2022"},{"t":322.7,"v":41,"s":"Infil. Rate - 2022"},{"t":337.6,"v":40,"s":"Infil. Rate - 2022"},
      {"t":1,"v":3,"s":"Accum. Infil. - 2022"},{"t":2,"v":6,"s":"Accum. Infil. - 2022"},{"t":3,"v":8,"s":"Accum. Infil. - 2022"},{"t":4,"v":11,"s":"Accum. Infil. - 2022"},{"t":5,"v":13,"s":"Accum. Infil. - 2022"},{"t":6,"v":15,"s":"Accum. Infil. - 2022"},{"t":7,"v":17,"s":"Accum. Infil. - 2022"},{"t":8,"v":19,"s":"Accum. Infil. - 2022"},{"t":9,"v":21,"s":"Accum. Infil. - 2022"},{"t":10,"v":23,"s":"Accum. Infil. - 2022"},{"t":12,"v":26,"s":"Accum. Infil. - 2022"},{"t":14,"v":29,"s":"Accum. Infil. - 2022"},{"t":16,"v":32,"s":"Accum. Infil. - 2022"},{"t":18,"v":35,"s":"Accum. Infil. - 2022"},{"t":20,"v":38,"s":"Accum. Infil. - 2022"},{"t":22,"v":41,"s":"Accum. Infil. - 2022"},{"t":24,"v":45,"s":"Accum. Infil. - 2022"},{"t":27,"v":49,"s":"Accum. Infil. - 2022"},{"t":30,"v":54,"s":"Accum. Infil. - 2022"},{"t":32,"v":59,"s":"Accum. Infil. - 2022"},{"t":37,"v":63,"s":"Accum. Infil. - 2022"},{"t":42,"v":72,"s":"Accum. Infil. - 2022"},{"t":47,"v":79,"s":"Accum. Infil. - 2022"},{"t":52,"v":83,"s":"Accum. Infil. - 2022"},{"t":57,"v":87,"s":"Accum. Infil. - 2022"},{"t":62,"v":95,"s":"Accum. Infil. - 2022"},{"t":67,"v":100.6,"s":"Accum. Infil. - 2022"},{"t":72,"v":105,"s":"Accum. Infil. - 2022"},{"t":77,"v":111.6,"s":"Accum. Infil. - 2022"},{"t":82,"v":116,"s":"Accum. Infil. - 2022"},{"t":87,"v":120,"s":"Accum. Infil. - 2022"},{"t":92,"v":126,"s":"Accum. Infil. - 2022"},{"t":97,"v":129,"s":"Accum. Infil. - 2022"},{"t":112,"v":148,"s":"Accum. Infil. - 2022"},{"t":127,"v":152,"s":"Accum. Infil. - 2022"},{"t":142,"v":159,"s":"Accum. Infil. - 2022"},{"t":157,"v":169,"s":"Accum. Infil. - 2022"},{"t":172,"v":178,"s":"Accum. Infil. - 2022"},{"t":187,"v":184,"s":"Accum. Infil. - 2022"},{"t":202,"v":194,"s":"Accum. Infil. - 2022"},{"t":217.5,"v":204,"s":"Accum. Infil. - 2022"},{"t":232.4,"v":213,"s":"Accum. Infil. - 2022"},{"t":247.5,"v":218,"s":"Accum. Infil. - 2022"},{"t":262.4,"v":229,"s":"Accum. Infil. - 2022"},{"t":277.5,"v":238,"s":"Accum. Infil. - 2022"},{"t":292,"v":246,"s":"Accum. Infil. - 2022"},
      {"t":3.4,"v":30,"s":"Infil. Rate - 2021"},{"t":4.2,"v":42,"s":"Infil. Rate - 2021"},{"t":6,"v":21.5,"s":"Infil. Rate - 2021"},{"t":7.8,"v":26,"s":"Infil. Rate - 2021"},{"t":10,"v":24,"s":"Infil. Rate - 2021"},{"t":12.5,"v":18,"s":"Infil. Rate - 2021"},{"t":16,"v":20,"s":"Infil. Rate - 2021"},{"t":17.8,"v":17,"s":"Infil. Rate - 2021"},{"t":22,"v":20,"s":"Infil. Rate - 2021"},{"t":27,"v":18,"s":"Infil. Rate - 2021"},{"t":32,"v":18,"s":"Infil. Rate - 2021"},{"t":37,"v":18,"s":"Infil. Rate - 2021"},{"t":47,"v":13,"s":"Infil. Rate - 2021"},{"t":67,"v":8,"s":"Infil. Rate - 2021"},{"t":82,"v":8,"s":"Infil. Rate - 2021"},{"t":112,"v":6,"s":"Infil. Rate - 2021"},{"t":142,"v":5,"s":"Infil. Rate - 2021"},{"t":172,"v":4,"s":"Infil. Rate - 2021"},{"t":232,"v":3,"s":"Infil. Rate - 2021"},
      {"t":3.4,"v":2,"s":"Accum. Infil. - 2021"},{"t":6,"v":3,"s":"Accum. Infil. - 2021"},{"t":10,"v":4.4,"s":"Accum. Infil. - 2021"},{"t":16,"v":6,"s":"Accum. Infil. - 2021"},{"t":22,"v":9,"s":"Accum. Infil. - 2021"},{"t":32,"v":10.5,"s":"Accum. Infil. - 2021"},{"t":37,"v":11.4,"s":"Accum. Infil. - 2021"},{"t":52,"v":14,"s":"Accum. Infil. - 2021"},{"t":67,"v":16,"s":"Accum. Infil. - 2021"},{"t":82,"v":18,"s":"Accum. Infil. - 2021"},{"t":112,"v":21.5,"s":"Accum. Infil. - 2021"},{"t":142,"v":24,"s":"Accum. Infil. - 2021"},{"t":172,"v":26,"s":"Accum. Infil. - 2021"},{"t":232,"v":27,"s":"Accum. Infil. - 2021"}
    ],
    "p4f": [
      {"t":0.5,"v":221,"s":"Infil. Rate. - After"},{"t":1.6,"v":177,"s":"Infil. Rate. - After"},{"t":2.6,"v":151,"s":"Infil. Rate. - After"},{"t":6,"v":120,"s":"Infil. Rate. - After"},{"t":13.8,"v":94,"s":"Infil. Rate. - After"},{"t":24,"v":79,"s":"Infil. Rate. - After"},{"t":37,"v":68,"s":"Infil. Rate. - After"},{"t":50,"v":61,"s":"Infil. Rate. - After"},{"t":71,"v":54.5,"s":"Infil. Rate. - After"},{"t":100,"v":50,"s":"Infil. Rate. - After"},{"t":136.5,"v":44.4,"s":"Infil. Rate. - After"},{"t":175.7,"v":41,"s":"Infil. Rate. - After"},{"t":215,"v":38.7,"s":"Infil. Rate. - After"},{"t":254,"v":37,"s":"Infil. Rate. - After"},{"t":293,"v":35.6,"s":"Infil. Rate. - After"},{"t":336,"v":33.4,"s":"Infil. Rate. - After"},
      {"t":0,"v":10,"s":"Accum. Infil. - After"},{"t":10,"v":22,"s":"Accum. Infil. - After"},{"t":25,"v":42,"s":"Accum. Infil. - After"},{"t":50,"v":78,"s":"Accum. Infil. - After"},{"t":75,"v":106,"s":"Accum. Infil. - After"},{"t":100,"v":127,"s":"Accum. Infil. - After"},{"t":125,"v":150,"s":"Accum. Infil. - After"},{"t":150,"v":165,"s":"Accum. Infil. - After"},{"t":200,"v":205,"s":"Accum. Infil. - After"},{"t":250,"v":228,"s":"Accum. Infil. - After"},{"t":300,"v":243,"s":"Accum. Infil. - After"},{"t":320,"v":248,"s":"Accum. Infil. - After"},
      {"t":3,"v":43,"s":"Infil. Rate - Before"},{"t":5,"v":33,"s":"Infil. Rate - Before"},{"t":8,"v":25,"s":"Infil. Rate - Before"},{"t":12,"v":20,"s":"Infil. Rate - Before"},{"t":20,"v":16,"s":"Infil. Rate - Before"},{"t":30,"v":13,"s":"Infil. Rate - Before"},{"t":50,"v":10,"s":"Infil. Rate - Before"},{"t":100,"v":7,"s":"Infil. Rate - Before"},{"t":150,"v":5.5,"s":"Infil. Rate - Before"},{"t":232,"v":4,"s":"Infil. Rate - Before"},
      {"t":0,"v":0,"s":"Accum. Infil. - Before"},{"t":10,"v":5,"s":"Accum. Infil. - Before"},{"t":25,"v":9,"s":"Accum. Infil. - Before"},{"t":50,"v":13,"s":"Accum. Infil. - Before"},{"t":100,"v":19,"s":"Accum. Infil. - Before"},{"t":150,"v":23,"s":"Accum. Infil. - Before"},{"t":200,"v":26,"s":"Accum. Infil. - Before"},{"t":232,"v":27,"s":"Accum. Infil. - Before"}
    ]
  },
  "resolve": {"scale": {"x": "independent", "y": "independent", "fill": "independent", "stroke": "independent", "shape": "independent"}, "legend": {"fill": "independent", "stroke": "independent", "shape": "independent"}},
  "spacing": 20.5,
  "hconcat": [
    {
      "spacing": 180,
      "bounds": "flush",
      "center": true,
      "resolve": {"scale": {"x": "independent", "y": "independent", "fill": "independent", "stroke": "independent", "shape": "independent"}, "legend": {"fill": "independent", "stroke": "independent", "shape": "independent"}},
      "vconcat": [
        {
          "width": 526, "height": 192,
          "title": {"text": "Infiltration Curves for Site 1", "offset": 6.5, "dx": -25.5},
          "layer": [
            {
              "data": {"name": "p1p"},
              "mark": {"type": "point", "filled": true, "opacity": 1, "size": 30, "strokeWidth": 1},
              "encoding": {
                "x": {"field": "t", "type": "quantitative", "scale": {"domain": [0, 300], "nice": false}, "axis": {"values": [0, 50, 100, 150, 200, 250, 300], "title": "Time (min)", "labelPadding": 15, "titlePadding": 5}},
                "y": {"field": "v", "type": "quantitative", "scale": {"domain": [0, 270], "nice": false}, "axis": {"values": [0, 50, 100, 150, 200, 250], "title": "Infilteration (cm)", "labelPadding": 11, "titlePadding": 7.5, "titleY": 120}},
                "fill": {"field": "s", "type": "nominal", "scale": {"domain": ["Infil. Rate - 2022", "Accum. Infil. - 2022", "Infil. Rate - 2021", "Accum. Infil. - 2021"], "range": ["#9bbb59", "#c0504d", "#f79646", "#8064a2"]}, "legend": {"title": null, "orient": "none", "direction": "horizontal", "legendX": 81.5, "legendY": -63.75, "columns": 2, "columnPadding": 87.8, "rowPadding": 2.5, "labelOffset": 16, "symbolSize": 30}},
                "shape": {"field": "s", "type": "nominal", "scale": {"domain": ["Infil. Rate - 2022", "Accum. Infil. - 2022", "Infil. Rate - 2021", "Accum. Infil. - 2021"], "range": ["circle", "triangle-up", "circle", "triangle-up"]}, "legend": {"title": null, "orient": "none", "direction": "horizontal", "legendX": 81.5, "legendY": -63.75, "columns": 2, "columnPadding": 87.8, "rowPadding": 2.5, "labelOffset": 16, "symbolSize": 30}},
                "stroke": {"condition": {"test": "datum.s === 'Infil. Rate - 2022'", "value": "#4f81bd"}, "value": "transparent"}
              }
            },
            {
              "data": {"name": "p1f"},
              "mark": {"type": "line", "strokeDash": [8, 5], "strokeWidth": 2.5, "interpolate": "monotone", "clip": true},
              "encoding": {
                "x": {"field": "t", "type": "quantitative"},
                "y": {"field": "v", "type": "quantitative"},
                "stroke": {"field": "s", "type": "nominal", "scale": {"domain": ["Infilt. Rate - After", "Accum. Infil. - After", "Infil. Rate - Before", "Accum. Infil. - Before"], "range": ["#203864", "#a33532", "#f79646", "#8064a2"]}, "legend": {"title": null, "orient": "none", "direction": "horizontal", "legendX": 81.5, "legendY": -33.25, "columns": 2, "columnPadding": 64.5, "rowPadding": 2.5, "labelOffset": 14, "symbolType": "M-3,0H3", "symbolSize": 128, "symbolStrokeWidth": 2.5, "symbolDash": [8, 5]}}
              }
            }
          ]
        },
        {
          "width": 547, "height": 186,
          "title": {"text": "Infiltration Curves for Site 3", "offset": 5.5, "dx": -18.5},
          "layer": [
            {
              "data": {"name": "p3p"},
              "mark": {"type": "point", "filled": true, "opacity": 1, "size": 28},
              "encoding": {
                "x": {"field": "t", "type": "quantitative", "scale": {"domain": [0, 300], "nice": false}, "axis": {"values": [0, 50, 100, 150, 200, 250, 300], "title": "time (min)", "labelPadding": 12.5, "titlePadding": -3.5}},
                "y": {"field": "v", "type": "quantitative", "scale": {"domain": [0, 500], "nice": false}, "axis": {"values": [0, 100, 200, 300, 400, 500], "title": "Infilteration (cm)", "labelPadding": 11, "titlePadding": -1.5}},
                "fill": {"field": "s", "type": "nominal", "scale": {"domain": ["Infil. Rate - 2022", "Accum. Infil. - 2022", "Infil. Rate - 2021", "Accum. Infil. - 2021"], "range": ["#4f81bd", "#c0504d", "#f79646", "#8064a2"]}, "legend": {"title": null, "orient": "none", "direction": "horizontal", "legendX": 95.25, "legendY": -66.25, "columns": 2, "columnPadding": 91.8, "rowPadding": 1.5, "labelOffset": 16, "symbolSize": 30}},
                "shape": {"field": "s", "type": "nominal", "scale": {"domain": ["Infil. Rate - 2022", "Accum. Infil. - 2022", "Infil. Rate - 2021", "Accum. Infil. - 2021"], "range": ["circle", "triangle-up", "circle", "circle"]}, "legend": {"title": null, "orient": "none", "direction": "horizontal", "legendX": 95.25, "legendY": -66.25, "columns": 2, "columnPadding": 91.8, "rowPadding": 1.5, "labelOffset": 16, "symbolSize": 30}},
                "size": {"condition": [{"test": "datum.s === 'Accum. Infil. - 2021'", "value": 65}, {"test": "datum.s === 'Infil. Rate - 2021'", "value": 12}], "value": 28}
              }
            },
            {
              "data": {"name": "p3f"},
              "mark": {"type": "line", "strokeDash": [8, 5], "strokeWidth": 2.5, "interpolate": "monotone", "clip": true},
              "encoding": {
                "x": {"field": "t", "type": "quantitative"},
                "y": {"field": "v", "type": "quantitative"},
                "stroke": {"field": "s", "type": "nominal", "scale": {"domain": ["Infil. Rate - After", "Accum. Infil. - After", "Infil. Rate. - Before", "Accum. Infil. - Before"], "range": ["#203864", "#a33532", "#f79646", "#8064a2"]}, "legend": {"title": null, "orient": "none", "direction": "horizontal", "legendX": 92, "legendY": -37.25, "columns": 2, "columnPadding": 64.5, "rowPadding": 2.5, "labelOffset": 14, "symbolType": "M-3,0H3", "symbolSize": 128, "symbolStrokeWidth": 2.5, "symbolDash": [8, 5]}}
              }
            }
          ]
        }
      ]
    },
    {
      "spacing": 170,
      "bounds": "flush",
      "center": true,
      "resolve": {"scale": {"x": "independent", "y": "independent", "fill": "independent", "stroke": "independent", "shape": "independent"}, "legend": {"fill": "independent", "stroke": "independent", "shape": "independent"}},
      "vconcat": [
        {
          "width": 539, "height": 195,
          "title": {"text": "Infiltration Curves for Site 2", "offset": 5.5, "dx": -20},
          "view": {"stroke": null},
          "layer": [
            {
              "data": {"name": "p2p"},
              "mark": {"type": "point", "filled": true, "opacity": 1, "size": 28},
              "encoding": {
                "x": {"field": "t", "type": "quantitative", "scale": {"domain": [0, 400], "nice": false}, "axis": {"values": [0, 50, 100, 150, 200, 250, 300, 350, 400], "title": "Time (min)", "labelPadding": -6, "titlePadding": 24}},
                "y": {"field": "v", "type": "quantitative", "scale": {"domain": [-20, 180], "nice": false}, "axis": {"values": [-20, 30, 80, 130, 180], "title": "Infilteration (cm)", "labelPadding": 10, "titlePadding": 5.5, "gridOpacity": {"condition": {"test": "datum.value === -20", "value": 0}, "value": 1}}},
                "fill": {"field": "s", "type": "nominal", "scale": {"domain": ["Infil. Rate - 2022", "Accum. Infil. - 2022", "Infil. Rate - 2021", "Accum. Infil. - 2021"], "range": ["#4f81bd", "#c0504d", "#f79646", "#8064a2"]}, "legend": {"title": null, "orient": "none", "direction": "horizontal", "legendX": 84.75, "legendY": -57.75, "columns": 2, "columnPadding": 89.8, "rowPadding": 1.5, "labelOffset": 16, "symbolSize": 30}},
                "shape": {"field": "s", "type": "nominal", "scale": {"domain": ["Infil. Rate - 2022", "Accum. Infil. - 2022", "Infil. Rate - 2021", "Accum. Infil. - 2021"], "range": ["circle", "triangle-up", "circle", "triangle-up"]}, "legend": {"title": null, "orient": "none", "direction": "horizontal", "legendX": 84.75, "legendY": -57.75, "columns": 2, "columnPadding": 89.8, "rowPadding": 1.5, "labelOffset": 16, "symbolSize": 30}}
              }
            },
            {
              "data": {"name": "p2f"},
              "mark": {"type": "line", "strokeDash": [8, 5], "strokeWidth": 2.5, "interpolate": "monotone", "clip": true},
              "encoding": {
                "x": {"field": "t", "type": "quantitative"},
                "y": {"field": "v", "type": "quantitative"},
                "stroke": {"field": "s", "type": "nominal", "scale": {"domain": ["Infil. Rate. - After", "Accum. Infil. - After", "Infil. Rate - Before", "Accum. Infil. - Before"], "range": ["#203864", "#a33532", "#f79646", "#8064a2"]}, "legend": {"title": null, "orient": "none", "direction": "horizontal", "legendX": 81.5, "legendY": -30.25, "columns": 2, "columnPadding": 66.5, "rowPadding": 2.5, "labelOffset": 14, "symbolType": "M-3,0H3", "symbolSize": 128, "symbolStrokeWidth": 2.5, "symbolDash": [8, 5]}}
              }
            },
            {"data": {"values": [{}]}, "mark": {"type": "rule", "color": "#2b4a72", "strokeWidth": 1.5}, "encoding": {"y": {"datum": 0}}},
            {"data": {"values": [{}]}, "mark": {"type": "rule", "color": "#2b4a72", "strokeWidth": 1.5}, "encoding": {"y": {"datum": 180}}},
            {"data": {"values": [{}]}, "mark": {"type": "rule", "color": "#2b4a72", "strokeWidth": 1.5}, "encoding": {"x": {"datum": 0}, "y": {"datum": 0}, "y2": {"datum": 180}}},
            {"data": {"values": [{}]}, "mark": {"type": "rule", "color": "#2b4a72", "strokeWidth": 1.5}, "encoding": {"x": {"datum": 400}, "y": {"datum": 0}, "y2": {"datum": 180}}}
          ]
        },
        {
          "width": 539, "height": 189,
          "title": {"text": "Infiltration Curves for Site 4", "offset": 3, "dx": 20},
          "layer": [
            {
              "data": {"name": "p4p"},
              "mark": {"type": "point", "filled": true, "opacity": 1, "size": 30},
              "encoding": {
                "x": {"field": "t", "type": "quantitative", "scale": {"domain": [0, 350], "nice": false}, "axis": {"values": [0, 50, 100, 150, 200, 250, 300, 350], "title": "Time (min)", "labelPadding": 16.5, "titlePadding": -2}},
                "y": {"field": "v", "type": "quantitative", "scale": {"domain": [0, 250], "nice": false}, "axis": {"values": [0, 50, 100, 150, 200, 250], "title": "Infilteration (cm)", "labelPadding": 11, "titlePadding": 3, "titleY": 79}},
                "fill": {"field": "s", "type": "nominal", "scale": {"domain": ["Infil. Rate - 2022", "Accum. Infil. - 2022", "Infil. Rate - 2021", "Accum. Infil. - 2021"], "range": ["#4f81bd", "#c0504d", "#f79646", "#8064a2"]}, "legend": {"title": null, "orient": "none", "direction": "horizontal", "legendX": 88.75, "legendY": -59.25, "columns": 2, "columnPadding": 91.8, "rowPadding": 1.5, "labelOffset": 16, "symbolSize": 30}},
                "shape": {"field": "s", "type": "nominal", "scale": {"domain": ["Infil. Rate - 2022", "Accum. Infil. - 2022", "Infil. Rate - 2021", "Accum. Infil. - 2021"], "range": ["circle", "triangle-up", "circle", "triangle-up"]}, "legend": {"title": null, "orient": "none", "direction": "horizontal", "legendX": 88.75, "legendY": -59.25, "columns": 2, "columnPadding": 91.8, "rowPadding": 1.5, "labelOffset": 16, "symbolSize": 30}},
                "size": {"condition": {"test": "datum.s === 'Infil. Rate - 2021'", "value": 14}, "value": 30}
              }
            },
            {
              "data": {"name": "p4f"},
              "mark": {"type": "line", "strokeDash": [8, 5], "strokeWidth": 2.5, "interpolate": "monotone", "clip": true},
              "encoding": {
                "x": {"field": "t", "type": "quantitative"},
                "y": {"field": "v", "type": "quantitative"},
                "stroke": {"field": "s", "type": "nominal", "scale": {"domain": ["Infil. Rate. - After", "Accum. Infil. - After", "Infil. Rate - Before", "Accum. Infil. - Before"], "range": ["#2c5491", "#a33532", "#f79646", "#8064a2"]}, "legend": {"title": null, "orient": "none", "direction": "horizontal", "legendX": 87.5, "legendY": -31.25, "columns": 2, "columnPadding": 67.5, "rowPadding": 2.5, "labelOffset": 14, "symbolType": "M-3,0H3", "symbolSize": 128, "symbolStrokeWidth": 2.5, "symbolDash": [8, 5]}}
              }
            }
          ]
        }
      ]
    }
  ]
}
